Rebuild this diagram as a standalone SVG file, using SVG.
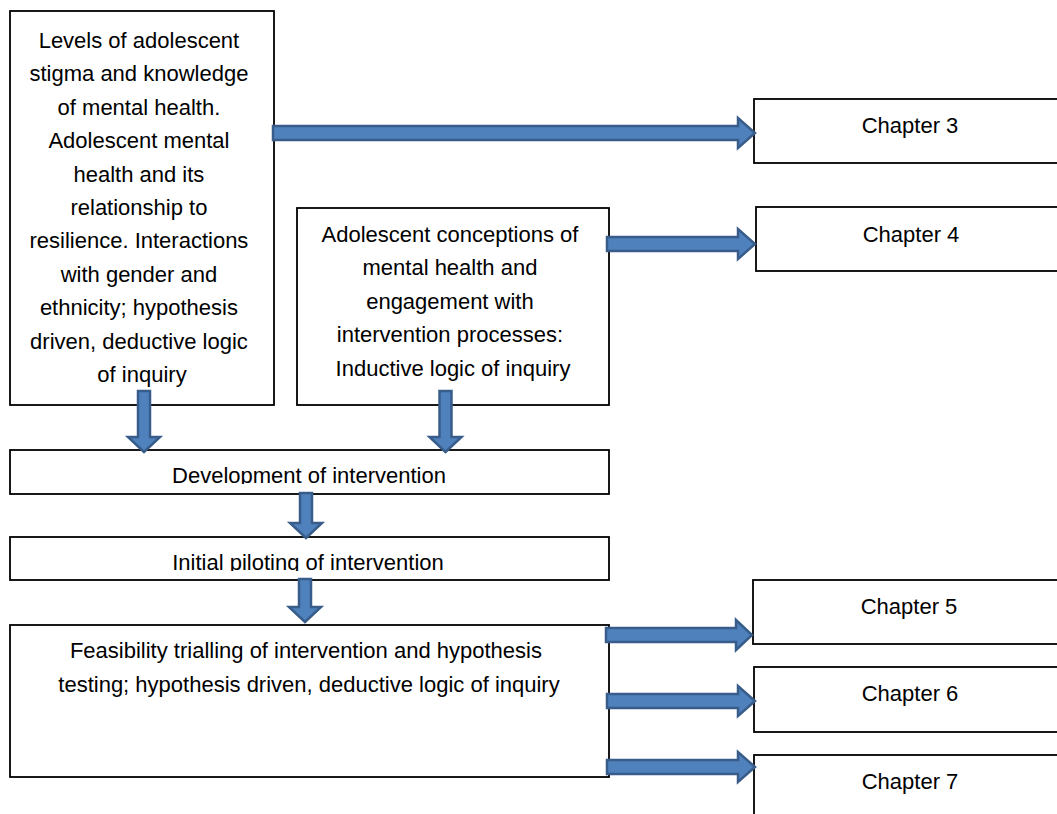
<svg xmlns="http://www.w3.org/2000/svg" width="1057" height="814" viewBox="0 0 1057 814">
<style>
.box{fill:#fff;stroke:#000;stroke-width:1.8}
.t{font-family:"Liberation Sans",Arial,sans-serif;font-size:22px;fill:#000;text-anchor:middle}
.arr{fill:#4F81BD;stroke:#385D8A;stroke-width:2.5;stroke-linejoin:miter}
</style>
<defs>
<clipPath id="clipDev"><rect x="10" y="450" width="600" height="34"/></clipPath>
<clipPath id="clipInit"><rect x="10" y="537" width="600" height="34"/></clipPath>
</defs>
<rect width="1057" height="814" fill="#fff"/>
<g id="node-levels">
<rect class="box" x="10" y="11" width="264" height="394"/>
<text class="t">
<tspan x="142" y="48">Levels of adolescent</tspan>
<tspan x="142" y="81.4">stigma and knowledge</tspan>
<tspan x="142" y="114.8">of mental health.</tspan>
<tspan x="142" y="148.2">Adolescent mental</tspan>
<tspan x="142" y="181.6">health and its</tspan>
<tspan x="142" y="215">relationship to</tspan>
<tspan x="142" y="248.4">resilience. Interactions</tspan>
<tspan x="142" y="281.8">with gender and</tspan>
<tspan x="142" y="315.2">ethnicity; hypothesis</tspan>
<tspan x="142" y="348.6">driven, deductive logic</tspan>
<tspan x="142" y="382">of inquiry</tspan>
</text>
</g>
<g id="node-conceptions">
<rect class="box" x="297" y="208" width="312" height="197"/>
<text class="t">
<tspan x="453" y="242">Adolescent conceptions of</tspan>
<tspan x="453" y="275.4">mental health and</tspan>
<tspan x="453" y="308.8">engagement with</tspan>
<tspan x="453" y="342.2">intervention processes:</tspan>
<tspan x="453" y="375.6">Inductive logic of inquiry</tspan>
</text>
</g>
<g id="node-ch3">
<rect class="box" x="754" y="99" width="320" height="64"/>
<text class="t" x="910" y="133">Chapter 3</text>
</g>
<g id="node-ch4">
<rect class="box" x="756" y="207" width="320" height="64"/>
<text class="t" x="911" y="242">Chapter 4</text>
</g>
<g id="node-development">
<rect class="box" x="10" y="450" width="599" height="44"/>
<text class="t" x="309" y="483" clip-path="url(#clipDev)">Development of intervention</text>
</g>
<g id="node-piloting">
<rect class="box" x="10" y="537" width="599" height="43"/>
<text class="t" x="308" y="570" clip-path="url(#clipInit)">Initial piloting of intervention</text>
</g>
<g id="node-feasibility">
<rect class="box" x="10" y="625" width="599" height="152"/>
<text class="t">
<tspan x="309" y="658">Feasibility trialling of intervention and hypothesis</tspan>
<tspan x="309" y="692">testing; hypothesis driven, deductive logic of inquiry</tspan>
</text>
</g>
<g id="node-ch5">
<rect class="box" x="753" y="580" width="320" height="64"/>
<text class="t" x="909" y="614">Chapter 5</text>
</g>
<g id="node-ch6">
<rect class="box" x="754" y="667" width="320" height="65"/>
<text class="t" x="910" y="701">Chapter 6</text>
</g>
<g id="node-ch7">
<rect class="box" x="754" y="755" width="320" height="80"/>
<text class="t" x="910" y="789">Chapter 7</text>
</g>
<g id="connectors">
<path class="arr" d="M273,126 L738,126 L738,118 L755,133 L738,148 L738,140 L273,140 Z"/>
<path class="arr" d="M607,237 L738,237 L738,229 L755,244 L738,259 L738,251 L607,251 Z"/>
<path class="arr" d="M606,628 L736,628 L736,620 L752,635 L736,650 L736,642 L606,642 Z"/>
<path class="arr" d="M607,694 L738,694 L738,686 L755,701 L738,716 L738,708 L607,708 Z"/>
<path class="arr" d="M607,760 L738,760 L738,752 L755,767 L738,782 L738,774 L607,774 Z"/>
<path class="arr" d="M138,391 L150,391 L150,437 L160,437 L144,452 L128,437 L138,437 Z"/>
<path class="arr" d="M439.5,391 L451.5,391 L451.5,437 L461.5,437 L445.5,452 L429.5,437 L439.5,437 Z"/>
<path class="arr" d="M300,493 L312,493 L312,523 L322,523 L306,538 L290,523 L300,523 Z"/>
<path class="arr" d="M299,579 L311,579 L311,607 L321,607 L305,622 L289,607 L299,607 Z"/>
</g>
</svg>
